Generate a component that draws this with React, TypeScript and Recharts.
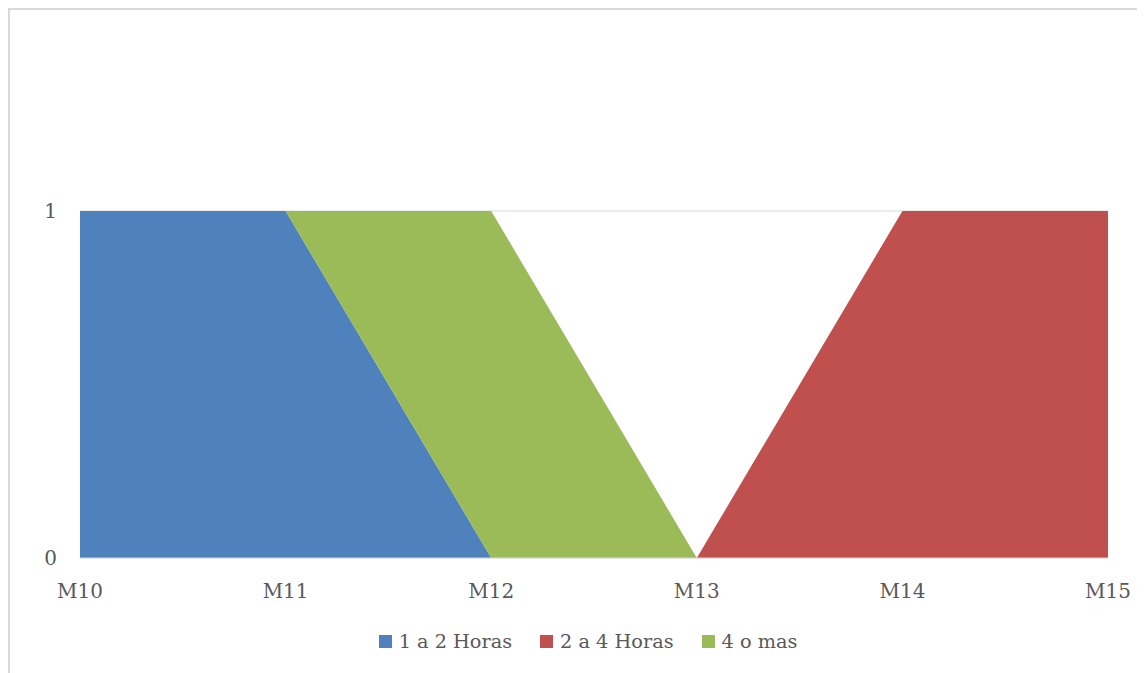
import React from 'react'
import { AreaChart, Area, XAxis, YAxis, CartesianGrid, Legend } from 'recharts'

const months = ['M10', 'M11', 'M12', 'M13', 'M14', 'M15']
const unoADos = [1, 1, 0, 0, 0, 0]
const dosACuatro = [0, 0, 0, 0, 1, 1]
const cuatroOMas = [0, 0, 1, 0, 0, 0]
const yTicks = [0, 1]

const seriesNames = ['1 a 2 Horas', '2 a 4 Horas', '4 o mas']
const seriesColors = ['#4F81BD', '#C0504D', '#9BBB59']

const data = months.map((m, i) => ({
  name: m,
  a: unoADos[i],
  b: dosACuatro[i],
  c: cuatroOMas[i],
}))

const textColor = '#595959'
const font = '"DejaVu Serif", serif'

function LegendBox() {
  return (
    <div style={{ display: 'flex', justifyContent: 'center', paddingLeft: 58, fontSize: 19.3, fontFamily: font, color: textColor }}>
      {seriesNames.map((n, i) => (
        <div key={n} style={{ display: 'flex', alignItems: 'center', marginRight: i < seriesNames.length - 1 ? 28 : 0 }}>
          <span style={{ display: 'inline-block', width: 13, height: 13, background: seriesColors[i], marginRight: 7 }} />
          <span>{n}</span>
        </div>
      ))}
    </div>
  )
}

export default function App() {
  return (
    <div style={{ width: 1135, height: 663, borderLeft: '2px solid #d9d9d9', borderTop: '2px solid #d9d9d9', fontFamily: font, background: '#fff' }}>
      <AreaChart width={1135} height={663} data={data} margin={{ top: 201, right: 37, left: 0, bottom: 13 }}>
        <CartesianGrid vertical={false} stroke="#d9d9d9" />
        <XAxis
          dataKey="name"
          height={72}
          tickLine={false}
          axisLine={{ stroke: '#d9d9d9' }}
          tickMargin={20}
          tick={{ fill: textColor, fontSize: 20, fontFamily: font }}
          interval={0}
        />
        <YAxis
          width={70}
          domain={[0, 1]}
          ticks={yTicks}
          axisLine={false}
          tickLine={false}
          tickMargin={17}
          tick={{ fill: textColor, fontSize: 20, fontFamily: font }}
        />
        <Legend verticalAlign="bottom" height={30} content={() => <LegendBox />} />
        <Area type="linear" dataKey="a" name={seriesNames[0]} stackId="1" stroke="none" fill={seriesColors[0]} fillOpacity={1} isAnimationActive={false} />
        <Area type="linear" dataKey="b" name={seriesNames[1]} stackId="1" stroke="none" fill={seriesColors[1]} fillOpacity={1} isAnimationActive={false} />
        <Area type="linear" dataKey="c" name={seriesNames[2]} stackId="1" stroke="none" fill={seriesColors[2]} fillOpacity={1} isAnimationActive={false} />
      </AreaChart>
    </div>
  )
}
